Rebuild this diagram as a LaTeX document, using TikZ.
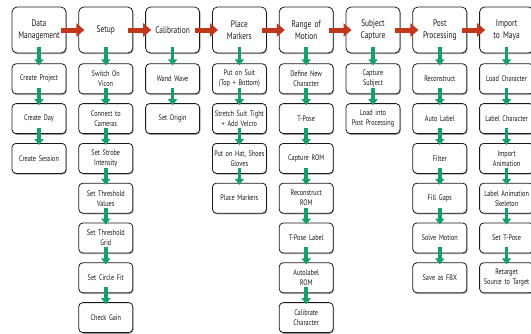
\documentclass[tikz,border=0pt]{standalone}
\usepackage{fontspec}
\setmainfont{PT Sans}[FakeStretch=0.78]
\usepackage{tikz}
\usetikzlibrary{arrows.meta,positioning,shadows}
\definecolor{ink}{HTML}{1A1A1A}
\definecolor{rust}{HTML}{C2361C}
\definecolor{leaf}{HTML}{14A06C}

\begin{document}
\begin{tikzpicture}[
  x=1pt,y=1pt,
  node distance=9pt and 12pt,
  head/.style={draw=ink,line width=0.8pt,rounded corners=5pt,fill=white,minimum height=46pt,minimum width=54pt,text width=52pt,align=center,font=\fontsize{9.5}{12}\selectfont,inner sep=1pt,text=ink,drop shadow={shadow xshift=0.8pt,shadow yshift=-1.2pt,opacity=0.7}},
  sub/.style={head,rounded corners=4pt,minimum height=30pt,font=\fontsize{8}{10}\selectfont},
  flow/.style={-{Triangle[width=13pt,length=8pt]},line width=5pt,color=rust,shorten <=-5pt,shorten >=-6pt},
  down/.style={-{Triangle[width=9pt,length=6pt]},line width=3.5pt,color=leaf,shorten <=-6pt,shorten >=-2pt}
]
\useasboundingbox (0,0) rectangle (531,-333);
% top row of stages
\node[head] (dm) at (39,-30) {Data\\Management};
\node[head,right=of dm] (set) {Setup};
\node[head,right=of set] (cal) {Calibration};
\node[head,right=of cal] (pm) {Place\\Markers};
\node[head,right=of pm] (rom) {Range of\\Motion};
\node[head,right=of rom] (cap) {Subject\\Capture};
\node[head,right=of cap] (pp) {Post\\Processing};
\node[head,right=of pp] (maya) {Import\\to Maya};
% data management
\node[sub,below=10pt of dm] (dm1) {Create Project};
\node[sub,below=of dm1] (dm2) {Create Day};
\node[sub,below=of dm2] (dm3) {Create Session};
% setup
\node[sub,below=10pt of set] (set1) {Switch On\\Vicon};
\node[sub,below=of set1] (set2) {Connect to\\Cameras};
\node[sub,below=of set2] (set3) {Set Strobe\\Intensity};
\node[sub,below=of set3] (set4) {Set Threshold\\Values};
\node[sub,below=of set4] (set5) {Set Threshold\\Grid};
\node[sub,below=of set5] (set6) {Set Circle Fit};
\node[sub,below=of set6] (set7) {Check Gain};
% calibration
\node[sub,below=10pt of cal] (cal1) {Wand Wave};
\node[sub,below=of cal1] (cal2) {Set Origin};
% markers
\node[sub,below=10pt of pm] (pm1) {Put on Suit\\(Top + Bottom)};
\node[sub,below=of pm1] (pm2) {Stretch Suit Tight\\+ Add Velcro};
\node[sub,below=of pm2] (pm3) {Put on Hat, Shoes\\Gloves};
\node[sub,below=of pm3] (pm4) {Place Markers};
% range of motion
\node[sub,below=10pt of rom] (rom1) {Define New\\Character};
\node[sub,below=of rom1] (rom2) {T-Pose};
\node[sub,below=of rom2] (rom3) {Capture ROM};
\node[sub,below=of rom3] (rom4) {Reconstruct\\ROM};
\node[sub,below=of rom4] (rom5) {T-Pose Label};
\node[sub,below=of rom5] (rom6) {Autolabel\\ROM};
\node[sub,below=of rom6] (rom7) {Calibrate\\Character};
% capture
\node[sub,below=10pt of cap] (cap1) {Capture\\Subject};
\node[sub,below=of cap1] (cap2) {Load into\\Post Processing};
% post processing
\node[sub,below=10pt of pp] (pp1) {Reconstruct};
\node[sub,below=of pp1] (pp2) {Auto Label};
\node[sub,below=of pp2] (pp3) {Filter};
\node[sub,below=of pp3] (pp4) {Fill Gaps};
\node[sub,below=of pp4] (pp5) {Solve Motion};
\node[sub,below=of pp5] (pp6) {Save as FBX};
% maya
\node[sub,below=10pt of maya] (maya1) {Load Character};
\node[sub,below=of maya1] (maya2) {Label Character};
\node[sub,below=of maya2] (maya3) {Import\\Animation};
\node[sub,below=of maya3] (maya4) {Label Animation\\Skeleton};
\node[sub,below=of maya4] (maya5) {Set T-Pose};
\node[sub,below=of maya5] (maya6) {Retarget\\Source to Target};
% arrows
\draw[flow] (dm)--(set); \draw[flow] (set)--(cal); \draw[flow] (cal)--(pm); \draw[flow] (pm)--(rom);
\draw[flow] (rom)--(cap); \draw[flow] (cap)--(pp); \draw[flow] (pp)--(maya);
\draw[down] (dm)--(dm1); \draw[down] (dm1)--(dm2); \draw[down] (dm2)--(dm3);
\draw[down] (set)--(set1); \draw[down] (set1)--(set2); \draw[down] (set2)--(set3); \draw[down] (set3)--(set4);
\draw[down] (set4)--(set5); \draw[down] (set5)--(set6); \draw[down] (set6)--(set7);
\draw[down] (cal)--(cal1); \draw[down] (cal1)--(cal2);
\draw[down] (pm)--(pm1); \draw[down] (pm1)--(pm2); \draw[down] (pm2)--(pm3); \draw[down] (pm3)--(pm4);
\draw[down] (rom)--(rom1); \draw[down] (rom1)--(rom2); \draw[down] (rom2)--(rom3); \draw[down] (rom3)--(rom4);
\draw[down] (rom4)--(rom5); \draw[down] (rom5)--(rom6); \draw[down] (rom6)--(rom7);
\draw[down] (cap)--(cap1); \draw[down] (cap1)--(cap2);
\draw[down] (pp)--(pp1); \draw[down] (pp1)--(pp2); \draw[down] (pp2)--(pp3); \draw[down] (pp3)--(pp4);
\draw[down] (pp4)--(pp5); \draw[down] (pp5)--(pp6);
\draw[down] (maya)--(maya1); \draw[down] (maya1)--(maya2); \draw[down] (maya2)--(maya3); \draw[down] (maya3)--(maya4);
\draw[down] (maya4)--(maya5); \draw[down] (maya5)--(maya6);
\end{tikzpicture}
\end{document}
